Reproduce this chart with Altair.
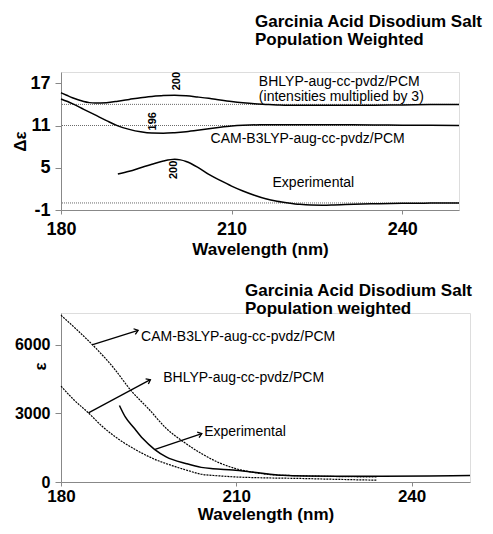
import math
import altair as alt
import pandas as pd

# ---------------- Top panel: CD spectra (Δε) ----------------
cd_bhlyp_wl = [180, 181, 182, 183, 184, 185, 186, 188, 190, 192, 194, 196, 198, 200, 202, 204, 206, 208,
               210, 212, 214, 216, 218, 220, 225, 230, 235, 240, 245, 250]
cd_bhlyp = [15.65, 15.3, 14.95, 14.65, 14.4, 14.25, 14.2, 14.25, 14.45, 14.7, 14.95, 15.12, 15.25, 15.3,
            15.22, 15.05, 14.86, 14.62, 14.4, 14.22, 14.08, 14.0, 13.93, 13.88, 13.86, 13.86, 13.88,
            13.92, 13.97, 14.0]
cd_cam_wl = [180, 182, 184, 186, 188, 190, 192, 194, 196, 198, 200, 202, 204, 206, 208, 210, 212, 215,
             220, 225, 230, 235, 240, 245, 250]
cd_cam = [14.76, 14.1, 13.3, 12.5, 11.7, 10.95, 10.45, 10.1, 9.92, 9.9, 9.98, 10.12, 10.32, 10.55,
          10.75, 10.92, 11.03, 11.1, 11.12, 11.12, 11.1, 11.08, 11.05, 11.02, 11.0]
cd_exp_wl = [190, 192, 194, 196, 198, 200, 201, 202, 204, 206, 208, 210, 212, 214, 216, 218, 220, 222,
             224, 226, 228, 230, 235, 240, 245, 250]
cd_exp = [4.1, 4.5, 5.0, 5.5, 5.95, 6.2, 6.12, 5.9, 5.1, 4.05, 3.2, 2.4, 1.7, 1.1, 0.6, 0.25, 0.0, -0.2,
          -0.3, -0.32, -0.28, -0.22, -0.12, -0.05, -0.02, 0.0]
cd_baselines = [14, 11, 0]

cd_label_text = ["BHLYP-aug-cc-pvdz/PCM", "(intensities multiplied by 3)",
                 "CAM-B3LYP-aug-cc-pvdz/PCM", "Experimental"]
cd_label_wl = [214.8, 214.8, 206.3, 217.2]
cd_label_val = [17.14, 15.0, 9.14, 2.86]

peak_text = ["200", "196", "200"]
peak_wl = [200.4, 196.2, 199.8]
peak_val = [17.3, 11.6, 4.7]

# ---------------- Bottom panel: UV spectra (ε) ----------------
uv_cam_wl = [180, 183, 186, 189, 192, 195, 198, 201, 204, 207, 210, 213, 216, 220, 225, 230, 234]
uv_cam = [7300, 6600, 5850, 5000, 4000, 3200, 2350, 1750, 1250, 850, 580, 420, 320, 280, 250, 230, 220]
uv_bhlyp_wl = [180, 182, 184.7, 187, 190, 193, 196, 199, 202, 204, 207, 210, 215, 220, 225, 230, 234]
uv_bhlyp = [4200, 3650, 3025, 2450, 1850, 1380, 1000, 720, 480, 340, 270, 220, 180, 160, 130, 100, 80]
uv_exp_wl = [190, 191, 192.4, 194, 196, 198, 201.5, 204, 206, 209.4, 213, 218, 222, 227, 235, 243, 250]
uv_exp = [3350, 2850, 2400, 1900, 1430, 1100, 800, 640, 580, 525, 430, 292, 260, 250, 255, 265, 280]

uv_label_text = ["CAM-B3LYP-aug-cc-pvdz/PCM", "BHLYP-aug-cc-pvdz/PCM", "Experimental"]
uv_label_wl = [193.7, 197.5, 204.5]
uv_label_val = [6360, 4550, 2190]

arrow_start_wl = [185.3, 184.7, 196.1]
arrow_start_val = [6000, 3025, 1430]
arrow_end_wl = [193.2, 195.3, 204.1]
arrow_end_val = [6640, 4480, 2120]

# ---------------- layout constants ----------------
FONT = "Liberation Sans"
TOP_W, TOP_H = 398, 138
BOT_W, BOT_H = 409, 169
X_DOM = [180, 250]
TOP_Y_DOM = [-1, 18.6]
BOT_Y_DOM = [0, 7400]

xscale = alt.Scale(domain=X_DOM, nice=False, zero=False)

def xaxis(label_pad, title_pad, label_size):
    return alt.Axis(values=[180, 210, 240], title="Wavelength (nm)", grid=False, tickSize=4,
                    labelFontSize=label_size, labelFontWeight="bold", labelPadding=label_pad,
                    titleFontSize=17, titleFontWeight="bold", titlePadding=title_pad,
                    labelFlush=False, labelExpr="'' + datum.value")

# ---------- top ----------
df_cd = pd.concat([
    pd.DataFrame({"wl": cd_bhlyp_wl, "v": cd_bhlyp, "s": "bhlyp"}),
    pd.DataFrame({"wl": cd_cam_wl, "v": cd_cam, "s": "cam"}),
    pd.DataFrame({"wl": cd_exp_wl, "v": cd_exp, "s": "exp"}),
])
df_base = pd.DataFrame({"v": cd_baselines})
df_cd_lab = pd.DataFrame({"wl": cd_label_wl, "v": cd_label_val, "t": cd_label_text})
df_peak = pd.DataFrame({"wl": peak_wl, "v": peak_val, "t": peak_text})

top_y = alt.Scale(domain=TOP_Y_DOM, nice=False, zero=False)
top_x_enc = alt.X("wl:Q", scale=xscale, axis=xaxis(6, 3, 18))
top_y_enc = alt.Y("v:Q", scale=top_y,
                  axis=alt.Axis(values=[-1, 5, 11, 17], title="Δε", grid=False, tickSize=6,
                                labelFontSize=18, labelFontWeight="bold", labelPadding=5,
                                titleFontSize=17, titleFontWeight="bold", titlePadding=0,
                                labelFlush=False, labelExpr="'' + datum.value"))

base_rules = alt.Chart(df_base).mark_rule(color="#444", strokeWidth=0.8, strokeDash=[1, 1]).encode(
    y=alt.Y("v:Q", scale=top_y))
cd_lines = alt.Chart(df_cd).mark_line(color="black", strokeWidth=1.5, interpolate="monotone").encode(
    x=top_x_enc, y=top_y_enc, detail="s:N")
cd_labels = alt.Chart(df_cd_lab).mark_text(align="left", baseline="middle", font=FONT, fontSize=14,
                                           color="black").encode(
    x=alt.X("wl:Q", scale=xscale), y=alt.Y("v:Q", scale=top_y), text="t:N")
peak_labels = alt.Chart(df_peak).mark_text(align="center", baseline="middle", angle=270, font=FONT,
                                           fontSize=11, fontWeight="bold", color="black").encode(
    x=alt.X("wl:Q", scale=xscale), y=alt.Y("v:Q", scale=top_y), text="t:N")

top = alt.layer(base_rules, cd_lines, cd_labels, peak_labels).properties(
    width=TOP_W, height=TOP_H,
    title=alt.TitleParams(text=["Garcinia Acid Disodium Salt", "Population Weighted"], anchor="start",
                          frame="group", dx=194, offset=23, fontSize=17, fontWeight="bold", font=FONT,
                          lineHeight=18, color="black"))

# ---------- bottom ----------
df_uv_dash = pd.concat([
    pd.DataFrame({"wl": uv_cam_wl, "v": uv_cam, "s": "cam"}),
    pd.DataFrame({"wl": uv_bhlyp_wl, "v": uv_bhlyp, "s": "bhlyp"}),
])
df_uv_exp = pd.DataFrame({"wl": uv_exp_wl, "v": uv_exp})
df_uv_lab = pd.DataFrame({"wl": uv_label_wl, "v": uv_label_val, "t": uv_label_text})

px_per_nm = BOT_W / (X_DOM[1] - X_DOM[0])
px_per_val = BOT_H / (BOT_Y_DOM[1] - BOT_Y_DOM[0])
angles = [math.degrees(math.atan2(-(ev - sv) * px_per_val, (ew - sw) * px_per_nm)) % 360
          for sw, sv, ew, ev in zip(arrow_start_wl, arrow_start_val, arrow_end_wl, arrow_end_val)]
df_arrow = pd.DataFrame({"x1": arrow_start_wl, "y1": arrow_start_val, "x2": arrow_end_wl,
                         "y2": arrow_end_val, "ang": angles})

bot_y = alt.Scale(domain=BOT_Y_DOM, nice=False, zero=False)
bot_x_enc = alt.X("wl:Q", scale=xscale, axis=xaxis(2, 2, 17))
bot_y_enc = alt.Y("v:Q", scale=bot_y,
                  axis=alt.Axis(values=[0, 3000, 6000], title="ε", grid=False, tickSize=6,
                                labelFontSize=16, labelFontWeight="bold", labelPadding=5,
                                titleFontSize=17, titleFontWeight="bold", titleX=-21, titleY=53,
                                titleAngle=270, titleAlign="center", titleBaseline="middle",
                                labelFlush=False, labelExpr="'' + datum.value"))

uv_dash = alt.Chart(df_uv_dash).mark_line(color="black", strokeWidth=1.2, strokeDash=[2, 1],
                                          interpolate="monotone").encode(
    x=bot_x_enc, y=bot_y_enc, detail="s:N")
uv_solid = alt.Chart(df_uv_exp).mark_line(color="black", strokeWidth=1.5, interpolate="monotone").encode(
    x=alt.X("wl:Q", scale=xscale), y=alt.Y("v:Q", scale=bot_y))
arrow_lines = alt.Chart(df_arrow).mark_rule(color="black", strokeWidth=1.3).encode(
    x=alt.X("x1:Q", scale=xscale), y=alt.Y("y1:Q", scale=bot_y), x2="x2:Q", y2="y2:Q")
arrow_heads = alt.Chart(df_arrow).mark_point(shape="M -1 -0.75 L 0 0 L -1 0.75", filled=False,
                                             color="black", strokeWidth=1.3, size=60, opacity=1).encode(
    x=alt.X("x2:Q", scale=xscale), y=alt.Y("y2:Q", scale=bot_y), angle=alt.Angle("ang:Q", scale=None))
uv_labels = alt.Chart(df_uv_lab).mark_text(align="left", baseline="middle", font=FONT, fontSize=14,
                                           color="black").encode(
    x=alt.X("wl:Q", scale=xscale), y=alt.Y("v:Q", scale=bot_y), text="t:N")

bottom = alt.layer(uv_dash, uv_solid, arrow_lines, arrow_heads, uv_labels).properties(
    width=BOT_W, height=BOT_H,
    title=alt.TitleParams(text=["Garcinia Acid Disodium Salt", "Population weighted"], anchor="start",
                          frame="group", dx=184, offset=-5, fontSize=17, fontWeight="bold", font=FONT,
                          lineHeight=18, color="black"))

chart = alt.vconcat(top, bottom, spacing=23).properties(
    padding={"top": 4, "left": 3, "right": 0, "bottom": 0}
).configure_view(stroke=None).configure_axis(
    domainColor="black", tickColor="black", labelColor="black", titleColor="black",
    labelFont=FONT, titleFont=FONT, domainWidth=1.2, tickWidth=1.2
).configure(background="white")

chart.save("out.html", embed_options={"renderer": "svg", "actions": False})
